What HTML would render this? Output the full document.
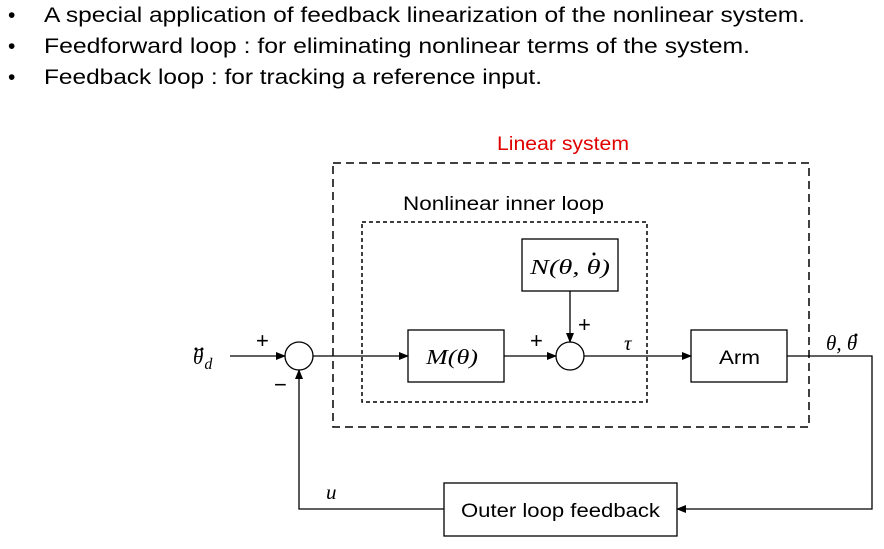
<!DOCTYPE html>
<html><head><meta charset="utf-8"><style>
body{margin:0;width:884px;height:544px;background:#fff;overflow:hidden;font-family:"Liberation Sans",sans-serif}
</style></head><body>
<svg width="884" height="544" xmlns="http://www.w3.org/2000/svg" font-family="Liberation Sans, sans-serif">
<defs><marker id="a" markerWidth="10" markerHeight="8" refX="9" refY="4" orient="auto" markerUnits="userSpaceOnUse"><path d="M0,0 L10,4 L0,8z" fill="#000"/></marker></defs>
<g font-size="21" fill="#000">
<text x="8" y="22">•</text><text x="44" y="22" textLength="761" lengthAdjust="spacingAndGlyphs">A special application of feedback linearization of the nonlinear system.</text>
<text x="8" y="53">•</text><text x="44" y="53" textLength="706" lengthAdjust="spacingAndGlyphs">Feedforward loop : for eliminating nonlinear terms of the system.</text>
<text x="8" y="84">•</text><text x="44" y="84" textLength="498" lengthAdjust="spacingAndGlyphs">Feedback loop : for tracking a reference input.</text>
</g>
<text x="497" y="150" font-size="19" fill="#e00000" textLength="132" lengthAdjust="spacingAndGlyphs">Linear system</text>
<text x="403" y="210" font-size="19" textLength="201" lengthAdjust="spacingAndGlyphs">Nonlinear inner loop</text>
<rect x="333" y="163" width="476" height="264" fill="none" stroke="#000" stroke-width="1.5" stroke-dasharray="8,5"/>
<rect x="362" y="222" width="285" height="180" fill="none" stroke="#000" stroke-width="1.5" stroke-dasharray="4,3"/>
<g fill="none" stroke="#000" stroke-width="1.3">
<rect x="408" y="330" width="96" height="52"/>
<rect x="522" y="239" width="96" height="52"/>
<rect x="691" y="330" width="96" height="52"/>
<rect x="444" y="483" width="233" height="53"/>
<circle cx="299" cy="356" r="14"/>
<circle cx="570" cy="356" r="14"/>
<line x1="230" y1="356" x2="285" y2="356" marker-end="url(#a)"/>
<line x1="313" y1="356" x2="408" y2="356" marker-end="url(#a)"/>
<line x1="504" y1="356" x2="556" y2="356" marker-end="url(#a)"/>
<line x1="570" y1="291" x2="570" y2="342" marker-end="url(#a)"/>
<line x1="584" y1="356" x2="691" y2="356" marker-end="url(#a)"/>
<polyline points="787,356 872,356 872,509 677,509" marker-end="url(#a)"/>
<polyline points="444,509 299,509 299,370" marker-end="url(#a)"/>
</g>
<g font-family="Liberation Serif, serif" font-style="italic" font-size="21">
<text x="426" y="364" textLength="52" lengthAdjust="spacingAndGlyphs">M(θ)</text>
<text x="530" y="274" textLength="80" lengthAdjust="spacingAndGlyphs">N(θ, θ)</text>
<text x="624" y="350">τ</text>
<text x="826" y="350">θ, θ</text>
<text x="193" y="364">θ<tspan font-size="16" dx="1" dy="5">d</tspan></text>
<text x="326" y="499">u</text>
</g>
<g fill="#000">
<circle cx="594" cy="254" r="1.5"/>
<circle cx="856" cy="335" r="1.5"/>
<circle cx="196" cy="349" r="1.5"/><circle cx="202" cy="349" r="1.5"/>
</g>
<text x="719" y="364" font-size="19" textLength="41" lengthAdjust="spacingAndGlyphs">Arm</text>
<text x="461" y="517" font-size="19" textLength="199" lengthAdjust="spacingAndGlyphs">Outer loop feedback</text>
<g font-size="22"><text x="256" y="348">+</text><text x="530" y="348">+</text><text x="578" y="332">+</text><text x="274" y="392">−</text></g>
</svg>
</body></html>
